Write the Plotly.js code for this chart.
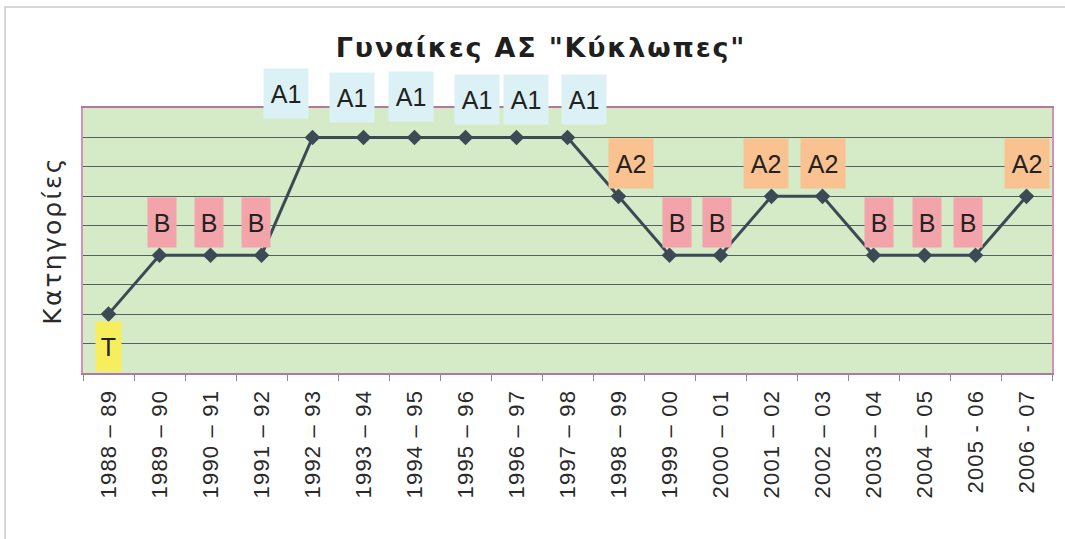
<!DOCTYPE html>
<html>
<head>
<meta charset="utf-8">
<script src="https://cdn.plot.ly/plotly-3.0.1.min.js"></script>
<style>
html,body{margin:0;padding:0;background:#fff;}
#chart{width:1065px;height:539px;}
#chart .xtick text{letter-spacing:1.2px;}
#chart .gtitle{letter-spacing:1.8px;}
#chart .ytitle{letter-spacing:2.2px;}
</style>
</head>
<body>
<div id="chart"></div>
<script>
// ---- data ----
var seasons = ["1988 – 89","1989 – 90","1990 – 91","1991 – 92","1992 – 93","1993 – 94","1994 – 95",
  "1995 – 96","1996 – 97","1997 – 98","1998 – 99","1999 – 00","2000 – 01","2001 – 02","2002 – 03",
  "2003 – 04","2004 – 05","2005 - 06","2006 - 07"];
var categoryLabels = ["T","B","B","B","A1","A1","A1","A1","A1","A1","A2","B","B","A2","A2","B","B","B","A2"];
var categoryLevel = {"T":2,"B":4,"A2":6,"A1":8};
var levels = categoryLabels.map(function(c){return categoryLevel[c];});

// ---- styling ----
var labelStyle = {
  "T":  {bg:"#f6ee5c", w:25, h:49, dy:-32},
  "B":  {bg:"#f3a4ab", w:28, h:49, dy:33},
  "A2": {bg:"#f9c290", w:44, h:49, dy:33},
  "A1": {bg:"#dcf1f5", w:44, h:49, dy:40}
};
var labelNudgeX = [0,2,-2,-6,-27,-12,-4,11,9,16,12,7,-4,-6,0,5,2,-8,0];
var labelNudgeY = [0,0,0,0,4,0,1,-2,-2,-2,0,0,0,0,0,0,0,0,0];

var M = {l:83, r:13, t:108, b:166};
var W = 1065, H = 539;
var pw = W - M.l - M.r, ph = H - M.t - M.b;

var lineColor = "#3b4a55";
var trace = {
  x: seasons, y: levels, type: "scatter", mode: "lines+markers",
  line: {color: lineColor, width: 3},
  marker: {symbol: "diamond", size: 12, color: lineColor},
  hoverinfo: "x+y", showlegend: false, cliponaxis: false
};

var annotations = seasons.map(function(s, i){
  var st = labelStyle[categoryLabels[i]];
  return {
    x: s, y: levels[i], xref: "x", yref: "y",
    text: categoryLabels[i], showarrow: false,
    bgcolor: st.bg, width: st.w, height: st.h, borderpad: 0,
    xshift: labelNudgeX[i], yshift: st.dy + labelNudgeY[i],
    font: {family: "Liberation Sans, Arial, sans-serif", size: 25, color: "#222"},
    valign: "middle", align: "center"
  };
});

var shapes = [{
  type: "rect", xref: "paper", yref: "paper", layer: "below",
  x0: (5 - M.l)/pw, x1: (W + 30 - M.l)/pw,
  y0: -(H + 30 - M.t - ph)/ph, y1: 1 + (M.t - 7)/ph,
  line: {color: "#c9c9c9", width: 1.5}, fillcolor: "rgba(0,0,0,0)"
}];

var layout = {
  width: W, height: H, margin: M,
  paper_bgcolor: "#ffffff", plot_bgcolor: "#d5eac6",
  title: {
    text: "<b>Γυναίκες ΑΣ \"Κύκλωπες\"</b>",
    font: {family: "DejaVu Sans, Verdana, sans-serif", size: 27, color: "#1f1f1f"},
    x: 541/W, xref: "container", xanchor: "center",
    y: 1 - 48/H, yref: "container", yanchor: "middle"
  },
  xaxis: {
    type: "category", tickson: "boundaries", ticks: "outside", ticklen: 6,
    tickcolor: "#8a8a8a", tickangle: -90, showgrid: false, ticklabelstandoff: 6,
    showline: true, linecolor: "#b07a9e", linewidth: 2, mirror: true,
    tickfont: {family: "Liberation Sans, Arial, sans-serif", size: 22, color: "#2a2a2a"},
    range: [-0.5, 18.5], fixedrange: true
  },
  yaxis: {
    range: [0, 9], dtick: 1, tick0: 0, showticklabels: false, ticks: "",
    showgrid: true, gridcolor: "#56605f", gridwidth: 1, zeroline: false,
    showline: true, linecolor: "#d890b8", linewidth: 2, mirror: true,
    title: {text: "Κατηγορίες", standoff: 12,
      font: {family: "DejaVu Sans, Verdana, sans-serif", size: 25, color: "#2a2a2a"}},
    fixedrange: true
  },
  annotations: annotations,
  shapes: shapes
};

Plotly.newPlot("chart", [trace], layout, {displayModeBar: false, staticPlot: true});
</script>
</body>
</html>
